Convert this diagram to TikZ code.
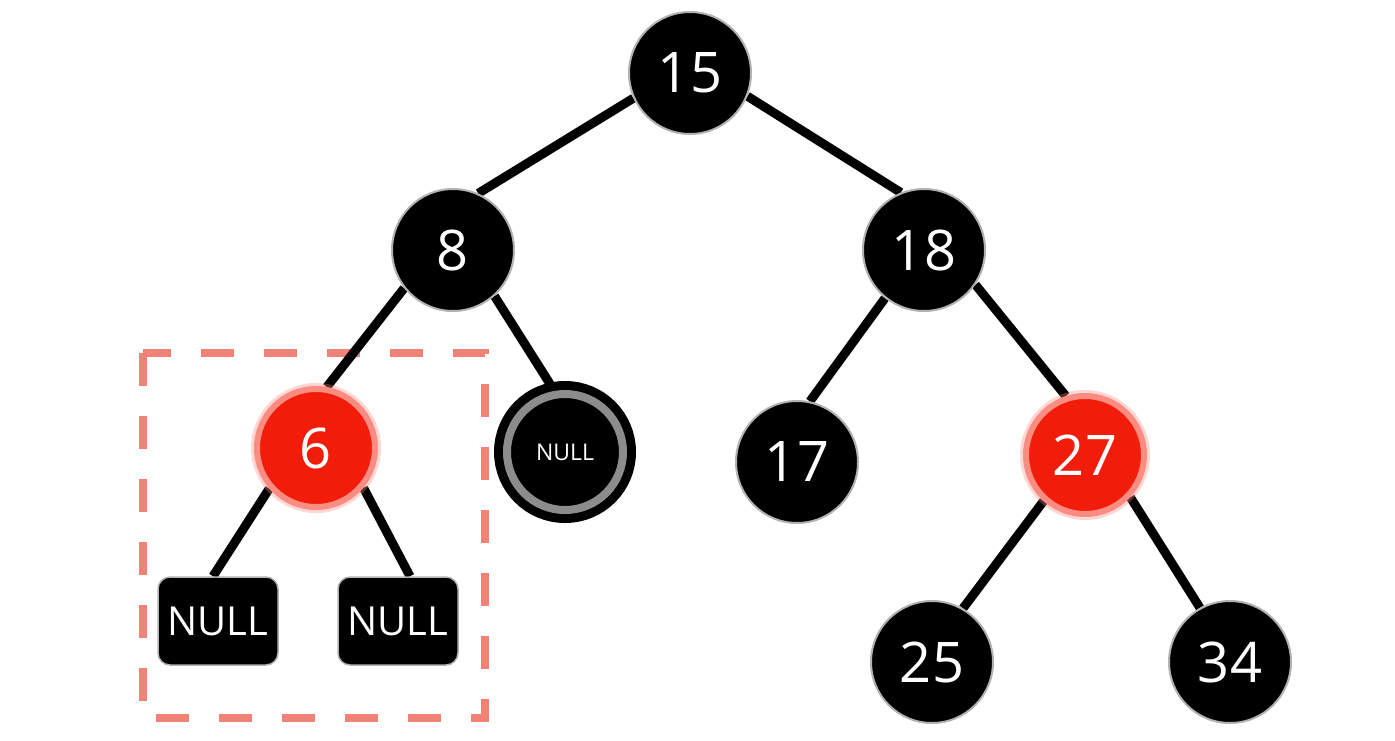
\documentclass[tikz,border=0pt]{standalone}
\usepackage{fontspec}
\setmainfont{Open Sans}
\usetikzlibrary{backgrounds}
\definecolor{nodered}{RGB}{242,28,10}
\definecolor{glowred}{RGB}{250,140,130}
\definecolor{boxpink}{RGB}{242,130,118}

\begin{document}
\begin{tikzpicture}[x=1pt, y=-1pt,
    every node/.style={text=white, inner sep=0pt},
    blacknode/.style={circle, fill=black, draw=black!30, line width=2pt, minimum size=122pt, font=\fontsize{56}{60}\selectfont},
    rednode/.style={circle, fill=nodered, draw=glowred, line width=6pt, minimum size=118pt, font=\fontsize{56}{60}\selectfont,
        preaction={draw=glowred, draw opacity=0.35, line width=12pt}},
    nullleaf/.style={circle, fill=black, draw=black, line width=9pt, double=black!45, double distance=8pt, minimum size=116pt, font=\fontsize{23}{26}\selectfont},
    nullbox/.style={rectangle, rounded corners=12pt, fill=black, draw=black!30, line width=1.5pt, minimum width=120pt, minimum height=88pt, font=\fontsize{40}{44}\selectfont},
    edge/.style={draw=black, line width=9pt}]
    \useasboundingbox (0,0) rectangle (1395,740);
    % nodes
    \node[blacknode] (n15) at (690,73) {15};
    \node[blacknode] (n8) at (453,250) {8};
    \node[blacknode] (n18) at (924,250) {18};
    \node[rednode] (n6) at (316,448) {6};
    \node[nullleaf] (nnull) at (565,452) {NULL};
    \node[blacknode] (n17) at (797,462) {17};
    \node[rednode] (n27) at (1085,455) {27};
    \node[blacknode] (n25) at (932,662) {25};
    \node[blacknode] (n34) at (1230,662) {34};
    \node[nullbox] (nbl) at (218,621) {NULL};
    \node[nullbox] (nbr) at (398,621) {NULL};
    % edges and highlight box
    \begin{scope}[on background layer]
        \draw[boxpink, line width=8pt, dash pattern=on 33pt off 30pt] (143,353) rectangle (485,718);
        \draw[edge] (n15.204) -- (n8.66);
        \draw[edge] (n15.-22) -- (n18.112);
        \draw[edge] (n8.218) -- (n6.80);
        \draw[edge] (n8.-48) -- (nnull.100);
        \draw[edge] (n18.231) -- (n17.78);
        \draw[edge] (n18.-34) -- (n27.108);
        \draw[edge] (n6.221) -- ([xshift=-5pt]nbl.north);
        \draw[edge] (n6.-40) -- ([xshift=12pt]nbr.north);
        \draw[edge] (n27.228) -- (n25.60);
        \draw[edge] (n27.-43) -- (n34.119);
    \end{scope}
\end{tikzpicture}
\end{document}
